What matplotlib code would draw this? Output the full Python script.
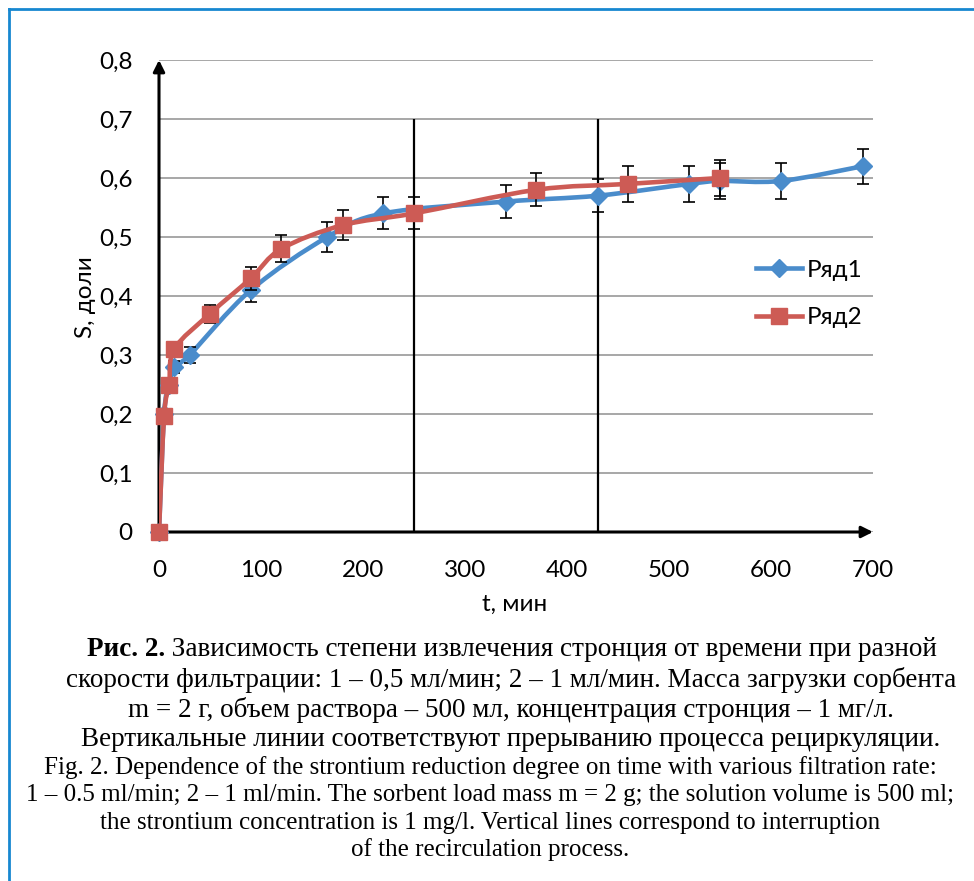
import numpy as np
import matplotlib.pyplot as plt
from matplotlib.path import Path
from matplotlib.patches import PathPatch
from matplotlib.lines import Line2D

# ряд 1: 0,5 мл/мин
t1 = [0, 5, 10, 15, 30, 90, 165, 220, 340, 430, 520, 550, 610, 690]
s1 = [0, 0.20, 0.25, 0.28, 0.30, 0.41, 0.50, 0.54, 0.56, 0.57, 0.59, 0.595, 0.595, 0.62]
e1 = [0, 0.005, 0.008, 0.01, 0.014, 0.02, 0.025, 0.027, 0.028, 0.028, 0.03, 0.03, 0.03, 0.03]

# ряд 2: 1 мл/мин
t2 = [0, 5, 10, 15, 50, 90, 120, 180, 250, 370, 460, 550]
s2 = [0, 0.197, 0.25, 0.31, 0.37, 0.43, 0.48, 0.52, 0.54, 0.58, 0.59, 0.60]
e2 = [0, 0.005, 0.008, 0.008, 0.015, 0.02, 0.023, 0.025, 0.027, 0.028, 0.03, 0.03]

vlines_t = [250, 430]
xticks = [0, 100, 200, 300, 400, 500, 600, 700]
yticks = [0, 0.1, 0.2, 0.3, 0.4, 0.5, 0.6, 0.7, 0.8]

caption_ru = [
    "скорости фильтрации: 1 – 0,5 мл/мин; 2 – 1 мл/мин. Масса загрузки сорбента",
    "m = 2 г, объем раствора – 500 мл, концентрация стронция – 1 мг/л.",
    "Вертикальные линии соответствуют прерыванию процесса рециркуляции.",
]
caption_en = [
    "Fig. 2. Dependence of the strontium reduction degree on time with various filtration rate:",
    "1 – 0.5 ml/min; 2 – 1 ml/min. The sorbent load mass m = 2 g; the solution volume is 500 ml;",
    "the strontium concentration is 1 mg/l. Vertical lines correspond to interruption",
    "of the recirculation process.",
]

blue = '#4a8ccb'
red = '#cd5b55'

plt.rcParams['font.family'] = ['Lato', 'DejaVu Sans']


def smooth_path(x, y):
    # excel-like smoothed line, bezier through the points
    x = np.asarray(x, float)
    y = np.asarray(y, float)
    verts = [(x[0], y[0])]
    codes = [Path.MOVETO]
    n = len(x)
    for i in range(n - 1):
        x0, y0 = (x[i - 1], y[i - 1]) if i > 0 else (x[i], y[i])
        x3, y3 = (x[i + 2], y[i + 2]) if i + 2 < n else (x[i + 1], y[i + 1])
        c1 = (x[i] + (x[i + 1] - x0) / 6, y[i] + (y[i + 1] - y0) / 6)
        c2 = (x[i + 1] - (x3 - x[i]) / 6, y[i + 1] - (y3 - y[i]) / 6)
        verts += [c1, c2, (x[i + 1], y[i + 1])]
        codes += [Path.CURVE4] * 3
    return Path(verts, codes)


fig = plt.figure(figsize=(9.74, 8.81), dpi=100)
ax = fig.add_axes([159 / 974, 1 - 532 / 881, (873 - 159) / 974, (532 - 60) / 881])

ax.set_xlim(0, 700)
ax.set_ylim(0, 0.8)
ax.yaxis.grid(True, color='#a0a0a0', lw=1.3)
ax.set_axisbelow(True)
for sp in ax.spines.values():
    sp.set_visible(False)

# axes with arrows
ax.annotate('', xy=(0, 0.8), xytext=(0, 0), annotation_clip=False,
            arrowprops=dict(arrowstyle='-|>', color='black', lw=2.2, mutation_scale=17, shrinkA=0, shrinkB=0))
ax.annotate('', xy=(700, 0), xytext=(0, 0), annotation_clip=False,
            arrowprops=dict(arrowstyle='-|>', color='black', lw=2.2, mutation_scale=17, shrinkA=0, shrinkB=0))

ax.vlines(vlines_t, 0, 0.7, color='black', lw=1.6, zorder=2)

ax.add_patch(PathPatch(smooth_path(t1, s1), fc='none', ec=blue, lw=3.3, zorder=3, capstyle='round'))
ax.errorbar(t1, s1, yerr=e1, fmt='none', ecolor='black', elinewidth=1.2, capsize=4, capthick=1.2, zorder=4)
ax.plot(t1, s1, ls='none', marker='D', ms=9, color=blue, zorder=5, clip_on=False)

ax.add_patch(PathPatch(smooth_path(t2, s2), fc='none', ec=red, lw=3.3, zorder=6, capstyle='round'))
ax.errorbar(t2, s2, yerr=e2, fmt='none', ecolor='black', elinewidth=1.2, capsize=4, capthick=1.2, zorder=7)
ax.plot(t2, s2, ls='none', marker='s', ms=11, color=red, zorder=8, clip_on=False)

ax.set_xticks(xticks)
ax.set_xticklabels([str(v) for v in xticks])
ax.set_yticks(yticks)
ax.set_yticklabels(['0' if v == 0 else ('%.1f' % v).replace('.', ',') for v in yticks])
ax.tick_params(length=0, labelsize=17.5)
ax.tick_params(axis='x', pad=20)
ax.tick_params(axis='y', pad=19)

fig.text(86 / 974, 1 - 297 / 881, 'S, доли', rotation=90, ha='center', va='center', fontsize=17.5)
fig.text(515 / 974, 1 - 604 / 881, 't, мин', ha='center', va='center', fontsize=17.5)

handles = [Line2D([], [], color=blue, lw=3.3, marker='D', ms=9),
           Line2D([], [], color=red, lw=3.3, marker='s', ms=11)]
ax.legend(handles, ['Ряд1', 'Ряд2'], loc='center left', bbox_to_anchor=(756 / 974, 1 - 294 / 881),
          bbox_transform=fig.transFigure, frameon=False, fontsize=17.5, handlelength=1.9,
          handletextpad=0.2, labelspacing=1.1, borderaxespad=0, borderpad=0)

# caption
cfont = ['Liberation Serif', 'DejaVu Serif']
fig.canvas.draw()
r = fig.canvas.get_renderer()
tb = fig.text(0, 0, 'Рис. 2.', fontsize=19.5, fontweight='bold', family=cfont)
tr = fig.text(0, 0, ' Зависимость степени извлечения стронция от времени при разной',
              fontsize=19.5, family=cfont)
wb = tb.get_window_extent(r).width
wr = tr.get_window_extent(r).width
x0 = 512 - (wb + wr) / 2
y1 = 1 - 650 / 881
tb.set_position((x0 / 974, y1))
tr.set_position(((x0 + wb) / 974, y1))
tb.set_va('center')
tr.set_va('center')
for i, line in enumerate(caption_ru):
    fig.text(511 / 974, 1 - (680 + 30 * i) / 881, line, ha='center', va='center', fontsize=19.5, family=cfont)
for i, line in enumerate(caption_en):
    fig.text(490 / 974, 1 - (768 + 27.3 * i) / 881, line, ha='center', va='center', fontsize=18, family=cfont)

# blue frame
fig.add_artist(Line2D([9 / 974, 9 / 974], [0, 1 - 9 / 881], color='#1787d0', lw=2, transform=fig.transFigure))
fig.add_artist(Line2D([9 / 974, 1], [1 - 9 / 881, 1 - 9 / 881], color='#1787d0', lw=2, transform=fig.transFigure))

fig.savefig('out.png', dpi=100)
